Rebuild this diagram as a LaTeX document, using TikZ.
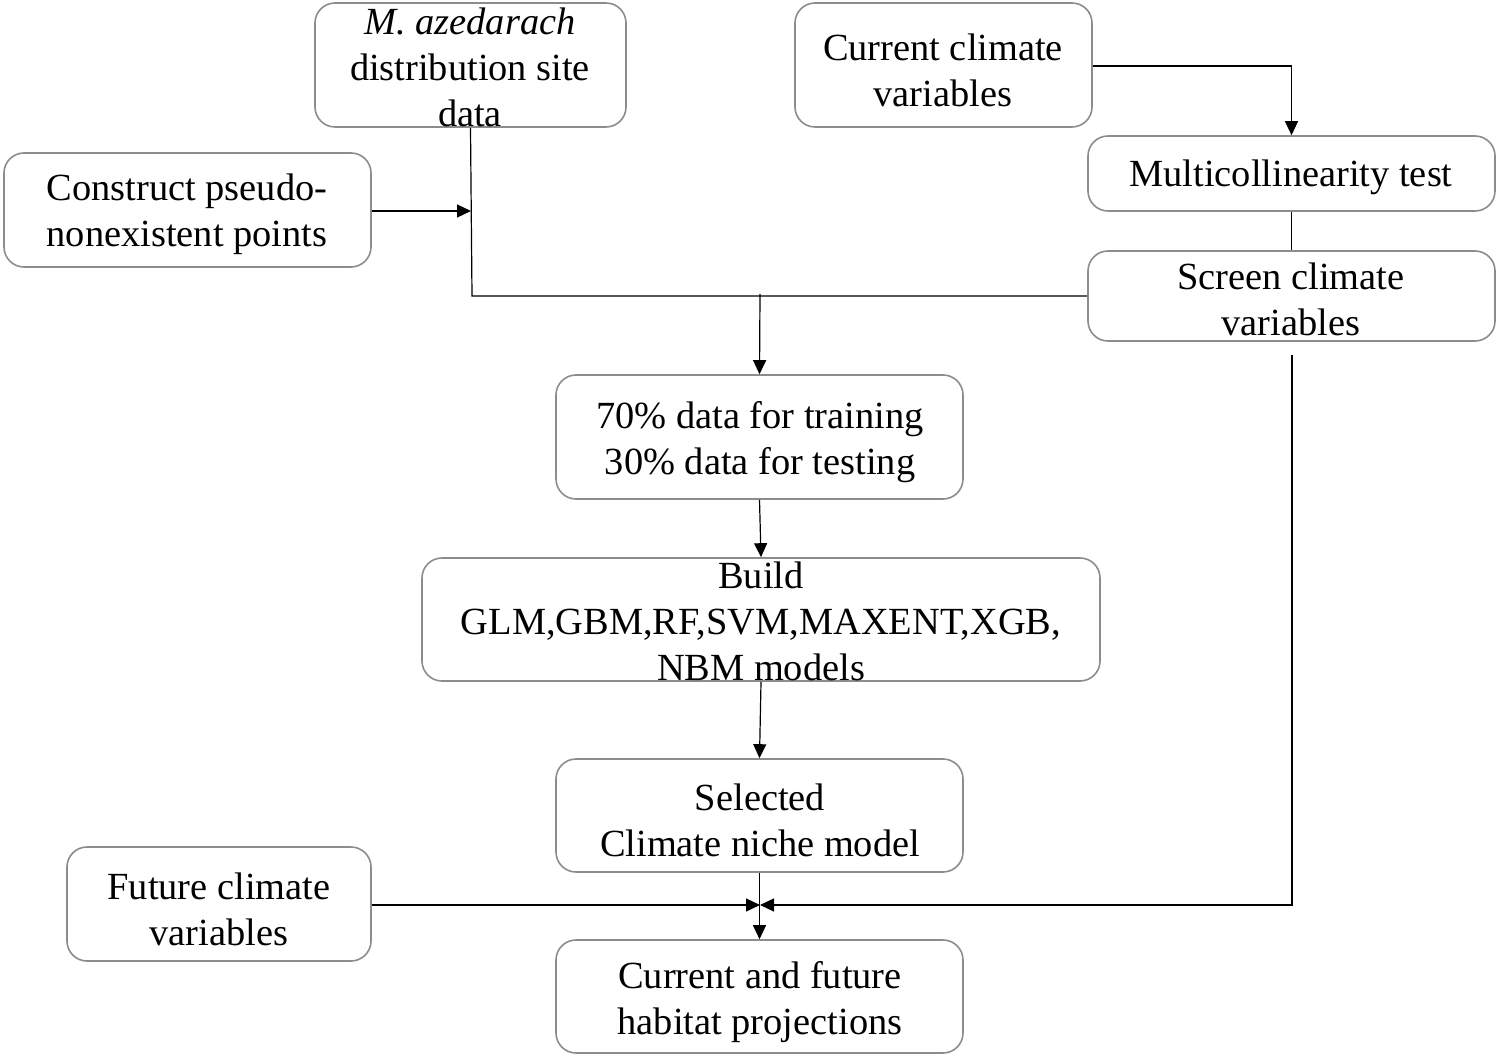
\documentclass[tikz,border=0pt]{standalone}
\usepackage{fontspec}
\setmainfont{Liberation Serif}
\usetikzlibrary{arrows.meta,fit}
\begin{document}
\begin{tikzpicture}[x=0.5pt,y=-0.5pt,
  box/.style={draw=black!45,line width=0.8pt,rounded corners=10pt,inner sep=0pt},
  txt/.style={align=center,inner sep=0pt,font=\fontsize{19.2}{23}\selectfont},
  conn/.style={draw=black,line width=0.6pt},
  arr/.style={conn,-{Triangle[length=7pt,width=6.5pt]}}]
\useasboundingbox (0,0) rectangle (1498,1058);
% boxes
\node[box,fit={(315,3) (626,127)}] (A) {};
\node[box,fit={(795,3) (1092,127)}] (B) {};
\node[box,fit={(4,153) (371,267)}] (C) {};
\node[box,fit={(1088,136) (1495,211)}] (D) {};
\node[box,fit={(1088,251) (1495,341)}] (E) {};
\node[box,fit={(556,375) (963,499)}] (F) {};
\node[box,fit={(422,558) (1100,681)}] (G) {};
\node[box,fit={(556,759) (963,872)}] (H) {};
\node[box,fit={(67,847) (371,961)}] (I) {};
\node[box,fit={(556,940) (963,1053)}] (J) {};
% texts
\node[txt] (tA) at (470,67) {\textit{M. azedarach}\\distribution site\\data};
\node[txt] (tB) at (943,70) {Current climate\\variables};
\node[txt] (tC) at (187,214) {Construct pseudo-\\nonexistent points};
\node[txt] (tD) at (1291,177) {Multicollinearity test};
\node[txt] (tE) at (1291,299) {Screen climate\\variables};
\node[txt] (tF) at (760,442) {70\% data for training\\30\% data for testing};
\node[txt] (tG) at (761,621) {Build\\GLM,GBM,RF,SVM,MAXENT,XGB,\\NBM models};
\node[txt] (tH) at (760,820) {Selected\\Climate niche model};
\node[txt] (tI) at (219,909) {Future climate\\variables};
\node[txt] (tJ) at (760,1002) {Current and future\\habitat projections};
% junction coordinates
\coordinate (j1) at (472,296);
\coordinate (jc) at (471,211);
\coordinate (jf) at (760,294);
\coordinate (jm) at (760,905);
\coordinate (e0) at (1292,355);
% connectors
\draw[conn] (A.south) -- (j1) -- (E.west |- j1);
\draw[arr] (C.east |- jc) -- (jc);
\draw[arr] (jf) -- (F.north);
\draw[arr] (B.east |- 0,66) -| (D.north);
\draw[conn] (D.south) -- (E.north);
\draw[arr] (F.south) -- (G.north);
\draw[arr] (G.south) -- (H.north);
\draw[arr] (H.south) -- (J.north);
\draw[arr] (I.east |- jm) -- (jm);
\draw[arr] (e0) |- (jm);
\end{tikzpicture}
\end{document}
